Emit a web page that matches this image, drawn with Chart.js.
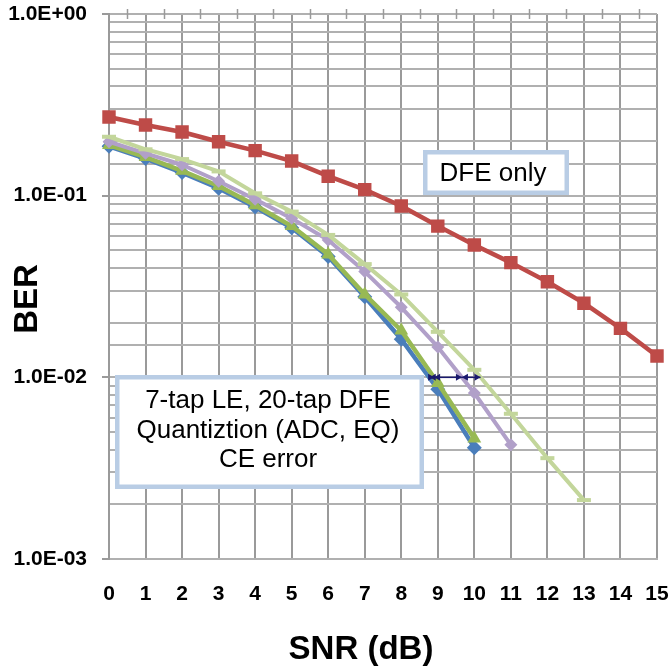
<!DOCTYPE html>
<html>
<head>
<meta charset="utf-8">
<script src="https://cdn.jsdelivr.net/npm/chart.js@4"></script>
<style>
  html, body { margin: 0; padding: 0; background: #ffffff; }
  #wrap { width: 670px; height: 669px; position: relative; }
</style>
</head>
<body>
<div id="wrap"><canvas id="c" width="670" height="669"></canvas></div>
<script>
// ---- Data ----
const snrLabels = ['0','1','2','3','4','5','6','7','8','9','10','11','12','13','14','15'];
const berDfeOnly   = [0.271, 0.245, 0.224, 0.198, 0.177, 0.155, 0.128, 0.108, 0.0878, 0.068, 0.0535, 0.0428, 0.0336, 0.0256, 0.0186, 0.0131];
const berBlue      = [0.187, 0.160, 0.134, 0.110, 0.0865, 0.0665, 0.0462, 0.0278, 0.0162, 0.0086, 0.0041];
const berGreen     = [0.190, 0.163, 0.137, 0.113, 0.0885, 0.068, 0.0475, 0.0286, 0.0181, 0.0093, 0.0046];
const berPurple    = [0.198, 0.171, 0.148, 0.120, 0.0955, 0.075, 0.057, 0.0382, 0.0243, 0.0147, 0.0082, 0.00425];
const berLightGreen= [0.211, 0.180, 0.159, 0.136, 0.103, 0.0817, 0.0608, 0.042, 0.0286, 0.0178, 0.011, 0.0063, 0.00359, 0.00211];
// SNR gap arrows at BER = 1e-2
const arrowSnr = [8.78, 8.9, 9.66, 10.17];
const arrowBer = 0.01;
const yMin = 0.001, yMax = 1;
const decadeTicks = [0.001, 0.01, 0.1, 1];
const xTitle = 'SNR (dB)';
const yTitle = 'BER';
const boxDfeText = ['DFE only'];
const boxMainText = ['7-tap LE, 20-tap DFE', 'Quantiztion (ADC, EQ)', 'CE error'];

const FONT = "'Liberation Sans', Arial, sans-serif";

function isDecade(v) {
  const e = Math.round(Math.log10(v));
  return Math.abs(v / Math.pow(10, e) - 1) < 1e-6;
}
function fmtSci(v) {
  const e = Math.round(Math.log10(v));
  return '1.0E' + (e < 0 ? '-' : '+') + String(Math.abs(e)).padStart(2, '0');
}

const decorPlugin = {
  id: 'decor',
  afterDatasetsDraw(chart) {
    const ctx = chart.ctx;
    const xs = chart.scales.x, ys = chart.scales.y;
    const ca = chart.chartArea;
    ctx.save();
    // y-axis decade tick marks
    ctx.strokeStyle = '#9a9a9a';
    ctx.lineWidth = 2;
    decadeTicks.forEach(v => {
      const y = Math.round(ys.getPixelForValue(v));
      ctx.beginPath();
      ctx.moveTo(ca.left - 7, y);
      ctx.lineTo(ca.left, y);
      ctx.stroke();
    });
    // top axis tick marks between categories
    ctx.lineWidth = 1.5;
    for (let i = 0; i < snrLabels.length - 1; i++) {
      const xm = (xs.getPixelForValue(i) + xs.getPixelForValue(i + 1)) / 2;
      ctx.beginPath();
      ctx.moveTo(Math.round(xm) + 0.5, ca.top - 5);
      ctx.lineTo(Math.round(xm) + 0.5, ca.top + 5);
      ctx.stroke();
    }
    // arrows
    const ya = ys.getPixelForValue(arrowBer);
    ctx.strokeStyle = '#1a1a6e';
    ctx.fillStyle = '#1a1a6e';
    ctx.lineWidth = 1.5;
    const head = (x, dir) => {
      ctx.beginPath();
      ctx.moveTo(x, ya);
      ctx.lineTo(x - dir * 6, ya - 3.5);
      ctx.lineTo(x - dir * 6, ya + 3.5);
      ctx.closePath();
      ctx.fill();
    };
    const snrPx = (s) => ca.left + (s / (snrLabels.length - 1)) * (ca.right - ca.left);
    for (let i = 0; i < arrowSnr.length - 1; i++) {
      const p1 = snrPx(arrowSnr[i]);
      const p2 = snrPx(arrowSnr[i + 1]);
      ctx.beginPath();
      ctx.moveTo(p1, ya);
      ctx.lineTo(p2, ya);
      ctx.stroke();
      head(p1, -1);
      head(p2, 1);
    }
    // text boxes
    const drawBox = (x, y, w, h, lines, cx, cy0, dy) => {
      ctx.fillStyle = '#ffffff';
      ctx.fillRect(x, y, w, h);
      ctx.strokeStyle = '#b9cde5';
      ctx.lineWidth = 4.5;
      ctx.strokeRect(x, y, w, h);
      ctx.fillStyle = '#000000';
      ctx.font = '26px ' + FONT;
      ctx.textAlign = 'center';
      ctx.textBaseline = 'middle';
      lines.forEach((t, k) => ctx.fillText(t, cx, cy0 + k * dy));
    };
    drawBox(425.25, 152.25, 141.5, 40.5, boxDfeText, 493, 174, 0);
    drawBox(117.25, 377.25, 304.5, 109.5, boxMainText, 268, 401, 29.5);

    // axis titles
    ctx.fillStyle = '#000000';
    ctx.textAlign = 'center';
    ctx.textBaseline = 'middle';
    ctx.font = 'bold 33px ' + FONT;
    ctx.fillText(xTitle, 361, 650);
    ctx.save();
    ctx.translate(28, 299);
    ctx.rotate(-Math.PI / 2);
    ctx.font = 'bold 33px ' + FONT;
    ctx.fillText(yTitle, 0, 0);
    ctx.restore();
    ctx.restore();
  }
};

const commonLine = { fill: false, tension: 0, spanGaps: false };

new Chart(document.getElementById('c'), {
  type: 'line',
  data: {
    labels: snrLabels,
    datasets: [
      Object.assign({}, commonLine, {
        label: 'LE+DFE, quantization, CE error',
        data: berLightGreen, order: 1,
        borderColor: '#c3d69b', backgroundColor: '#c3d69b', borderWidth: 4,
        pointStyle: 'line', pointRadius: 7, pointBorderWidth: 4,
        pointBorderColor: '#c3d69b'
      }),
      Object.assign({}, commonLine, {
        label: 'LE+DFE, quantization',
        data: berPurple, order: 2,
        borderColor: '#b1a0c9', backgroundColor: '#b1a0c9', borderWidth: 4,
        pointStyle: 'rectRot', pointRadius: 6.5, pointBorderWidth: 0
      }),
      Object.assign({}, commonLine, {
        label: 'LE+DFE 2',
        data: berGreen, order: 3,
        borderColor: '#98b954', backgroundColor: '#98b954', borderWidth: 4.5,
        pointStyle: 'triangle', pointRadius: 8, pointBorderWidth: 0
      }),
      Object.assign({}, commonLine, {
        label: 'DFE only',
        data: berDfeOnly, order: 4,
        borderColor: '#be4b48', backgroundColor: '#be4b48', borderWidth: 4.5,
        pointStyle: 'rect', pointRadius: 9.5, pointBorderWidth: 0
      }),
      Object.assign({}, commonLine, {
        label: 'LE+DFE',
        data: berBlue, order: 5,
        borderColor: '#4a7ebb', backgroundColor: '#4a7ebb', borderWidth: 4.5,
        pointStyle: 'rectRot', pointRadius: 7.5, pointBorderWidth: 0
      })
    ]
  },
  options: {
    responsive: false,
    animation: false,
    devicePixelRatio: 1,
    layout: { padding: { top: 14, right: 13, left: 0, bottom: 0 } },
    plugins: { legend: { display: false }, tooltip: { enabled: false } },
    elements: { line: { borderJoinStyle: 'round' } },
    scales: {
      x: {
        type: 'category',
        offset: false,
        grid: { display: true, color: '#9a9a9a', lineWidth: 2, drawTicks: true, tickLength: 23, tickColor: 'rgba(0,0,0,0)' },
        border: { display: true, color: '#b0b0b0', width: 2 },
        ticks: { color: '#000', font: { family: FONT, size: 21, weight: 'bold' }, padding: 0, maxRotation: 0, autoSkip: false },
        title: { display: false },
        afterFit(s) { s.height = 110; }
      },
      y: {
        type: 'logarithmic',
        min: yMin, max: yMax,
        grid: {
          display: true, color: '#b0b0b0', lineWidth: 2, drawTicks: true, tickLength: 22,
          tickColor: 'rgba(0,0,0,0)'
        },
        border: { display: true, color: '#9a9a9a', width: 2 },
        ticks: {
          autoSkip: false, color: '#000', padding: 0,
          font: { family: FONT, size: 21, weight: 'bold' },
          callback: (v) => isDecade(v) ? fmtSci(v) : ''
        },
        title: { display: false },
        afterFit(s) { s.width = 109; }
      }
    }
  },
  plugins: [decorPlugin]
});
</script>
</body>
</html>
